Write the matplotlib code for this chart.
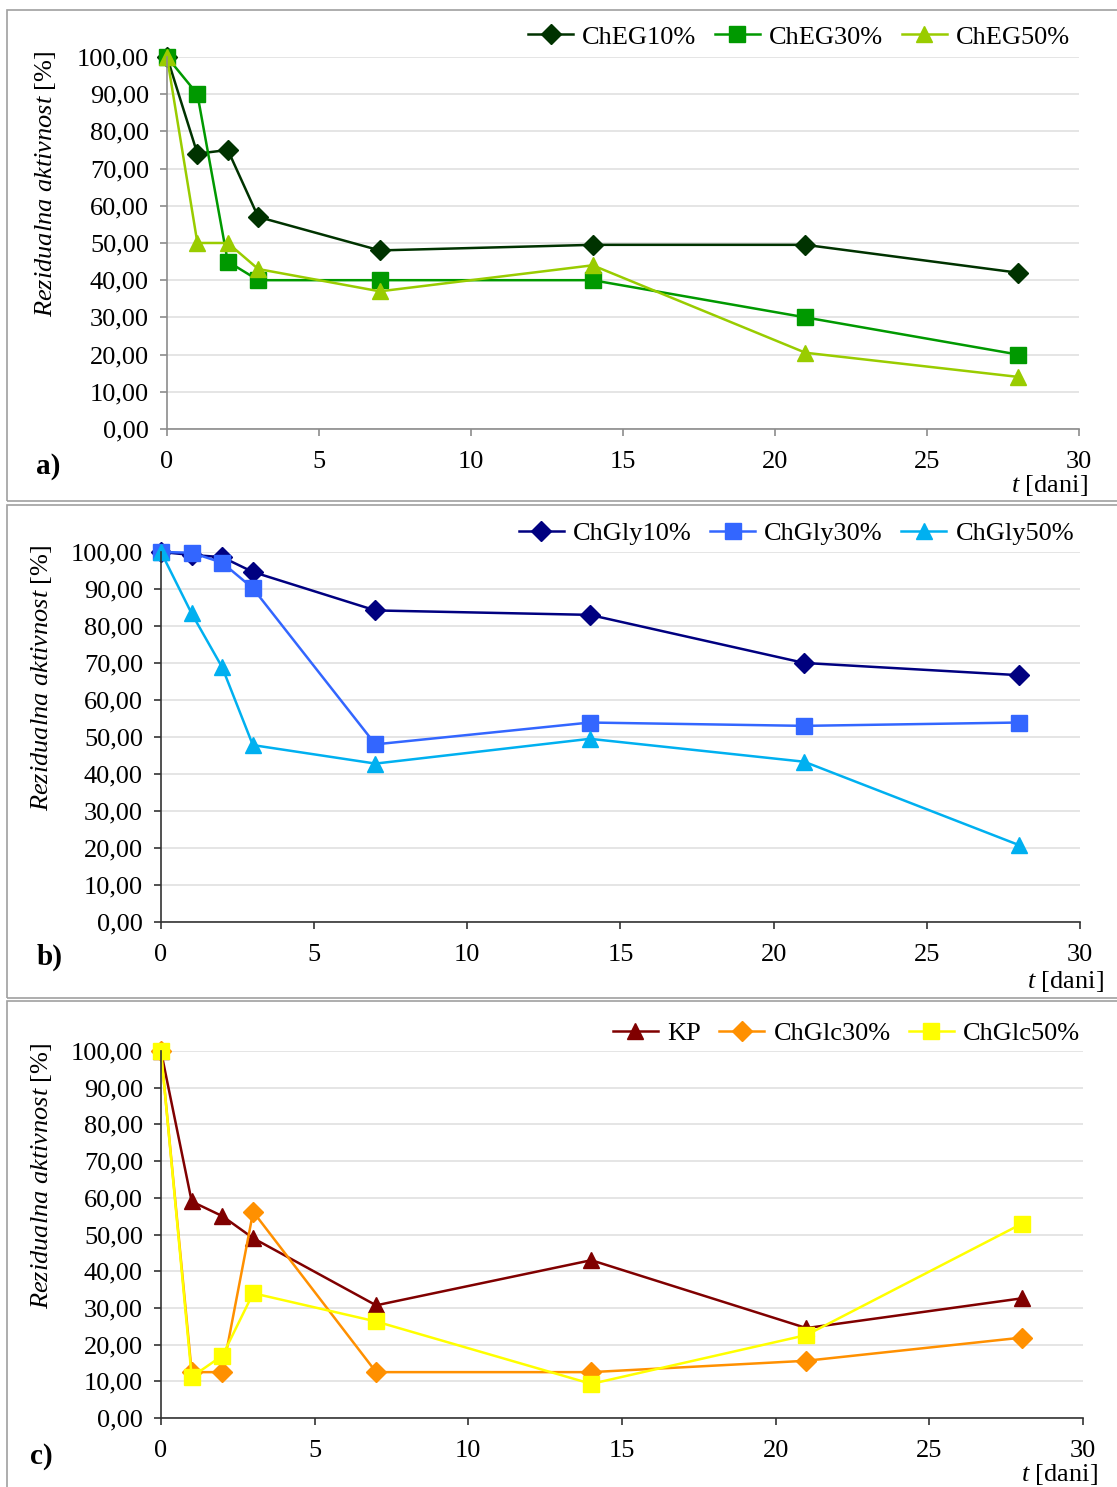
"""
Residual activity over time for three groups of samples (panels a, b, c).
"""

import matplotlib
matplotlib.use("Agg")
import matplotlib.pyplot as plt
from matplotlib.ticker import FuncFormatter, MultipleLocator
from matplotlib.patches import Rectangle

plt.rcParams['font.family'] = ['Liberation Serif', 'DejaVu Serif']
plt.rcParams['mathtext.fontset'] = 'custom'
plt.rcParams['mathtext.rm'] = 'Liberation Serif'
plt.rcParams['mathtext.it'] = 'Liberation Serif:italic'

# ==============================================================================
# Data

days = [0, 1, 2, 3, 7, 14, 21, 28]

# a) ChEG
cheg10 = [100, 74, 75, 57, 48, 49.5, 49.5, 42]
cheg30 = [100, 90, 45, 40, 40, 40, 30, 20]
cheg50 = [100, 50, 50, 43, 37, 44, 20.5, 14]

# b) ChGly
chgly10 = [100, 99.2, 98.6, 94.6, 84.2, 83, 70, 66.7]
chgly30 = [100, 99.8, 97.1, 90.2, 48, 53.9, 53, 53.9]
chgly50 = [100, 83.4, 68.8, 47.8, 42.8, 49.5, 43.3, 20.8]

# c) KP / ChGlc
kp = [100, 59, 55, 49, 30.7, 43, 24.5, 32.6]
chglc30 = [100, 12.5, 12.5, 56.2, 12.5, 12.5, 15.6, 21.9]
chglc50 = [100, 11.2, 17, 34, 26.3, 9.3, 22.6, 52.9]

panels = [
    {
        'tag': 'a)',
        'series': [('ChEG10%', cheg10, '#003300', 'D'),
                   ('ChEG30%', cheg30, '#009900', 's'),
                   ('ChEG50%', cheg50, '#99CC00', '^')],
        'rect': [0.1495, 0.7115, 0.8165, 0.2502],
        'box': (10, 501),
        'spine': '#8C8C8C',
        'leg': (0.990, 1.054),
        'ylab_x': -0.120,
        'xlab': (1.010, -0.153),
        'tagpos': (-0.144, -0.102),
    },
    {
        'tag': 'b)',
        'series': [('ChGly10%', chgly10, '#000080', 'D'),
                   ('ChGly30%', chgly30, '#3366FF', 's'),
                   ('ChGly50%', chgly50, '#00B0F0', '^')],
        'rect': [0.1441, 0.3800, 0.8228, 0.2488],
        'box': (505, 998),
        'spine': '#333333',
        'leg': (0.9935, 1.051),
        'ylab_x': -0.116,
        'xlab': (1.026, -0.162),
        'tagpos': (-0.135, -0.097),
    },
    {
        'tag': 'c)',
        'series': [('KP', kp, '#800000', '^'),
                   ('ChGlc30%', chglc30, '#FF9000', 'D'),
                   ('ChGlc50%', chglc50, '#FFFF00', 's')],
        'rect': [0.1441, 0.0464, 0.8255, 0.2468],
        'box': (1001, 1500),
        'spine': '#333333',
        'leg': (0.997, 1.049),
        'ylab_x': -0.116,
        'xlab': (1.016, -0.155),
        'tagpos': (-0.142, -0.106),
    },
]

W, H = 1117, 1487
fig = plt.figure(figsize=(W / 100, H / 100), dpi=100)

comma = FuncFormatter(lambda v, pos: f"{v:.2f}".replace('.', ','))
fs = 19

for p in panels:
    # grey frame around each panel
    top, bot = p['box']
    fig.patches.append(Rectangle((7 / W, 1 - bot / H), 1.2, (bot - top) / H,
                                 transform=fig.transFigure, fill=False,
                                 edgecolor='#A0A0A0', linewidth=1.2))

    ax = fig.add_axes(p['rect'])
    for label, vals, color, marker in p['series']:
        ms = 10.5 if marker == 'D' else 12
        ax.plot(days, vals, color=color, marker=marker, markersize=ms,
                linewidth=1.8, label=label, clip_on=False)

    ax.set_xlim(0, 30)
    ax.set_ylim(0, 100)
    ax.xaxis.set_major_locator(MultipleLocator(5))
    ax.yaxis.set_major_locator(MultipleLocator(10))
    ax.yaxis.set_major_formatter(comma)
    ax.grid(axis='y', color='#E3E3E3', linewidth=1.3)
    ax.set_axisbelow(True)
    for s in ['top', 'right']:
        ax.spines[s].set_visible(False)
    for s in ['left', 'bottom']:
        ax.spines[s].set_color(p['spine'])
        ax.spines[s].set_linewidth(1.2)
    ax.tick_params(axis='both', direction='out', length=5, width=1.2,
                   color=p['spine'], labelsize=fs)
    ax.tick_params(axis='y', pad=8)
    ax.tick_params(axis='x', pad=11)

    ax.set_ylabel(r'$\it{Rezidualna\ aktivnost}$ [%]', fontsize=fs)
    ax.yaxis.set_label_coords(p['ylab_x'], 0.66)

    ax.text(p['xlab'][0], p['xlab'][1], r'$\it{t}$ [dani]', fontsize=fs,
            ha='right', va='center', transform=ax.transAxes)
    ax.text(p['tagpos'][0], p['tagpos'][1], p['tag'], fontsize=21,
            fontweight='bold', ha='left', va='center', transform=ax.transAxes)

    ax.legend(loc='center right', bbox_to_anchor=p['leg'], ncol=3,
              frameon=False, fontsize=fs, borderpad=0, borderaxespad=0,
              handlelength=1.7, handletextpad=0.35, columnspacing=0.7)

plt.savefig('out.png', dpi=100)
